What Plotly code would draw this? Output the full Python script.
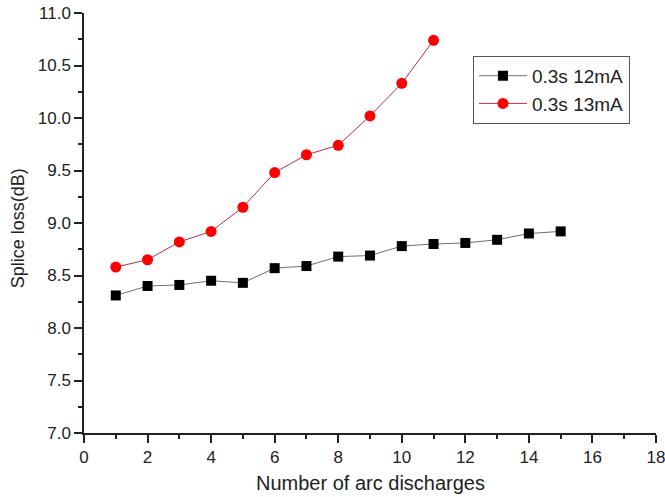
import plotly.graph_objects as go

x_12mA = list(range(1, 16))
y_12mA = [8.31, 8.40, 8.41, 8.45, 8.43, 8.57, 8.59, 8.68, 8.69, 8.78, 8.80, 8.81, 8.84, 8.90, 8.92]
x_13mA = list(range(1, 12))
y_13mA = [8.58, 8.65, 8.82, 8.92, 9.15, 9.48, 9.65, 9.74, 10.02, 10.33, 10.74]
name_12mA = "0.3s 12mA"
name_13mA = "0.3s 13mA"
x_title = "Number of arc discharges"
y_title = "Splice loss(dB)"

FONT = "Liberation Sans, Arial, sans-serif"

fig = go.Figure()
fig.add_trace(go.Scatter(
    x=x_12mA, y=y_12mA, name=name_12mA, mode="lines+markers",
    line=dict(color="#707070", width=1),
    marker=dict(symbol="square", size=10, color="black"),
))
fig.add_trace(go.Scatter(
    x=x_13mA, y=y_13mA, name=name_13mA, mode="lines+markers",
    line=dict(color="#b03050", width=1),
    marker=dict(symbol="circle", size=11, color="#ff0000"),
))

axis_common = dict(
    showline=True, linecolor="#222", linewidth=1.5, mirror=False,
    ticks="outside", ticklen=8, tickwidth=1.5, tickcolor="#222",
    showgrid=False, zeroline=False, automargin=False, ticklabeloverflow="allow",
    tickfont=dict(family=FONT, size=17, color="#222"),
    minor=dict(ticks="outside", ticklen=4, tickwidth=1.5, tickcolor="#222", showgrid=False),
)

fig.update_xaxes(range=[0, 18], dtick=2, tick0=0, minor_dtick=1, **axis_common)
fig.update_yaxes(range=[7, 11], dtick=0.5, tick0=7, tickformat=".1f", minor_dtick=0.25, **axis_common)

fig.add_annotation(text=x_title, xref="paper", yref="paper", x=0.5, y=-0.119,
                   xanchor="center", yanchor="middle", showarrow=False,
                   font=dict(family=FONT, size=20, color="#222"))
fig.add_annotation(text=y_title, xref="paper", yref="paper", x=-0.115, y=0.488,
                   xanchor="center", yanchor="middle", showarrow=False, textangle=-90,
                   font=dict(family=FONT, size=18, color="#222"))

fig.update_layout(
    width=665, height=497,
    margin=dict(l=84, r=9, t=13, b=64, autoexpand=False),
    paper_bgcolor="white", plot_bgcolor="white",
    font=dict(family=FONT, color="#222"),
    legend=dict(x=0.68, y=0.898, xanchor="left", yanchor="top",
                bordercolor="#555", borderwidth=1, bgcolor="white",
                font=dict(family=FONT, size=19, color="#222"),
                tracegroupgap=0, itemwidth=48),
    showlegend=True,
)

fig.write_html("out.html", config={"displayModeBar": False},
               post_script="document.body.style.margin='0px';")
